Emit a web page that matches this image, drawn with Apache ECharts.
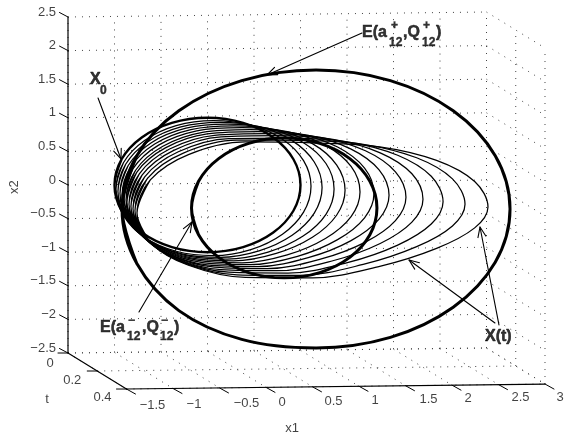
<!DOCTYPE html>
<html><head><meta charset="utf-8"><style>html,body{margin:0;background:#fff}#c{width:564px;height:439px}</style>
<script src="https://cdn.jsdelivr.net/npm/echarts@6/dist/echarts.min.js"></script></head><body><div id="c"></div><script>
// Axis ticks
const x1Ticks=[-1.5,-1,-0.5,0,0.5,1,1.5,2,2.5,3];
const x2Ticks=[-2.5,-2,-1.5,-1,-0.5,0,0.5,1,1.5,2,2.5];
const tTicks=[0,0.2,0.4];
// Curves read against the back-wall grid: [x1, x2]
const ePlus=[[-0.919,-0.357],[-0.760,0.435],[-0.308,1.105],[0.368,1.554],[1.167,1.711],[1.966,1.554],[2.642,1.105],[3.094,0.435],[3.253,-0.357],[3.094,-1.149],[2.642,-1.819],[1.966,-2.268],[1.167,-2.425],[0.368,-2.298],[-0.308,-1.869],[-0.760,-1.169]];
const eMinus=[[-0.172,-0.342],[-0.096,0.056],[0.120,0.393],[0.443,0.619],[0.825,0.698],[1.207,0.619],[1.530,0.393],[1.746,0.056],[1.822,-0.342],[1.746,-0.740],[1.530,-1.077],[1.207,-1.303],[0.825,-1.382],[0.443,-1.303],[0.120,-1.077],[-0.096,-0.740]];
const x0Curve=[[-1,0],[-0.924,0.383],[-0.707,0.707],[-0.383,0.924],[0,1],[0.383,0.924],[0.707,0.707],[0.924,0.383],[1,0],[0.924,-0.383],[0.707,-0.707],[0.383,-0.924],[0,-1],[-0.383,-0.924],[-0.707,-0.707],[-0.924,-0.383]];
const xt1=[[-0.984,-0.063],[-0.904,0.331],[-0.677,0.662],[-0.337,0.884],[0.065,0.959],[0.466,0.891],[0.806,0.682],[1.033,0.362],[1.113,-0.019],[1.033,-0.403],[0.806,-0.732],[0.466,-0.961],[0.065,-1.051],[-0.337,-0.986],[-0.677,-0.777],[-0.904,-0.452]];
const xt2=[[-0.963,-0.095],[-0.880,0.308],[-0.642,0.645],[-0.286,0.864],[0.134,0.933],[0.554,0.868],[0.910,0.660],[1.148,0.342],[1.232,-0.039],[1.148,-0.419],[0.910,-0.748],[0.554,-0.980],[0.134,-1.077],[-0.286,-1.020],[-0.642,-0.814],[-0.880,-0.489]];
const xt3=[[-0.941,-0.126],[-0.854,0.287],[-0.604,0.629],[-0.231,0.845],[0.210,0.907],[0.651,0.844],[1.024,0.637],[1.274,0.320],[1.361,-0.060],[1.274,-0.436],[1.024,-0.764],[0.651,-0.999],[0.210,-1.103],[-0.231,-1.052],[-0.604,-0.849],[-0.854,-0.524]];
const xt4=[[-0.919,-0.159],[-0.828,0.262],[-0.568,0.610],[-0.179,0.825],[0.280,0.881],[0.739,0.820],[1.128,0.616],[1.388,0.301],[1.479,-0.079],[1.388,-0.450],[1.128,-0.778],[0.739,-1.018],[0.280,-1.129],[-0.179,-1.085],[-0.568,-0.886],[-0.828,-0.561]];
const xt5=[[-0.898,-0.190],[-0.802,0.240],[-0.526,0.593],[-0.115,0.805],[0.371,0.853],[0.857,0.793],[1.268,0.590],[1.544,0.276],[1.640,-0.104],[1.544,-0.469],[1.268,-0.795],[0.857,-1.039],[0.371,-1.157],[-0.115,-1.118],[-0.526,-0.923],[-0.802,-0.597]];
const xt6=[[-0.876,-0.224],[-0.775,0.216],[-0.485,0.572],[-0.054,0.783],[0.457,0.824],[0.968,0.766],[1.399,0.565],[1.689,0.251],[1.790,-0.128],[1.689,-0.488],[1.399,-0.813],[0.968,-1.061],[0.457,-1.186],[-0.054,-1.154],[-0.485,-0.962],[-0.775,-0.634]];
const xt7=[[-0.866,-0.256],[-0.759,0.193],[-0.453,0.553],[-0.003,0.761],[0.543,0.795],[1.083,0.739],[1.539,0.538],[1.845,0.225],[1.952,-0.154],[1.845,-0.508],[1.539,-0.831],[1.083,-1.081],[0.543,-1.215],[-0.003,-1.189],[-0.453,-0.999],[-0.759,-0.670]];
const xt8=[[-0.844,-0.287],[-0.731,0.171],[-0.408,0.535],[0.075,0.740],[0.645,0.765],[1.215,0.709],[1.698,0.509],[2.021,0.196],[2.134,-0.183],[2.021,-0.530],[1.698,-0.850],[1.215,-1.104],[0.645,-1.245],[0.075,-1.223],[-0.408,-1.037],[-0.731,-0.706]];
const xt9=[[-0.823,-0.320],[-0.704,0.147],[-0.363,0.516],[0.146,0.717],[0.747,0.734],[1.348,0.679],[1.857,0.479],[2.198,0.167],[2.317,-0.212],[2.198,-0.552],[1.857,-0.870],[1.348,-1.127],[0.747,-1.276],[0.146,-1.260],[-0.363,-1.075],[-0.704,-0.744]];
const xt10=[[-0.801,-0.353],[-0.675,0.122],[-0.314,0.494],[0.228,0.691],[0.866,0.699],[1.504,0.643],[2.045,0.443],[2.406,0.130],[2.533,-0.249],[2.406,-0.580],[2.045,-0.894],[1.504,-1.155],[0.866,-1.311],[0.228,-1.298],[-0.314,-1.115],[-0.675,-0.781]];
const xt11=[[-0.780,-0.384],[-0.645,0.100],[-0.260,0.475],[0.316,0.667],[0.995,0.664],[1.674,0.606],[2.249,0.405],[2.634,0.091],[2.769,-0.288],[2.634,-0.609],[2.249,-0.918],[1.674,-1.182],[0.995,-1.346],[0.316,-1.336],[-0.260,-1.154],[-0.645,-0.817]];
const xt12=[[-0.758,-0.417],[-0.615,0.075],[-0.205,0.453],[0.406,0.641],[1.129,0.628],[1.852,0.569],[2.463,0.367],[2.873,0.053],[3.016,-0.327],[2.873,-0.638],[2.463,-0.943],[1.852,-1.210],[1.129,-1.382],[0.406,-1.375],[-0.205,-1.194],[-0.615,-0.855]];
const family=[xt1,xt2,xt3,xt4,xt5,xt6,xt7,xt8,xt9,xt10,xt11,xt12];
// Annotation arrows: [from, to]
const arrowX0=[[-1.177,1.295],[-0.930,0.387]];
const arrowEPlus=[[1.661,2.262],[0.640,1.637]];
const arrowEMinus=[[-0.737,-1.890],[-0.167,-0.551]];
const arrowXt1=[[3.134,-2.083],[2.930,-0.625]];
const arrowXt2=[[3.091,-2.054],[2.167,-1.116]];
const big={fontWeight:'bold',fontSize:16,textBorderColor:'#000',textBorderWidth:0.5},sm={fontWeight:'bold',fontSize:12,textBorderColor:'#000',textBorderWidth:0.4};
const notes=[['X',-1.263,1.5625,big],['0',-1.156,1.399,sm],['X(t)',2.984,-2.262,big],
['E(a',1.661,2.262,big],['+',1.973,2.366,sm],['12',1.952,2.113,sm],[',Q',2.102,2.262,big],['+',2.317,2.366,sm],['12',2.306,2.113,sm],[')',2.457,2.262,big],
['E(a',-1.156,-2.128,big],['\u2212',-0.855,-2.024,sm],['12',-0.866,-2.262,sm],[',Q',-0.704,-2.128,big],['\u2212',-0.500,-2.024,sm],['12',-0.511,-2.262,sm],[')',-0.360,-2.128,big]];
const x1Title=[0.909,-3.616],x2Title=[-2.081,-0.030],tTitle=[-1.726,-3.185];
const x1Off=[26,21,27,16,21,16,23,16,22,15];
function project(a,t,b){return [a+0.629*t/0.4,b+0.0165*(a+1.5)-0.536*t/0.4];}
const fmt=v=>String(v).replace('-','\u2212');
const series=[];
const line=(data,w,extra)=>series.push(Object.assign({type:'line',data,symbol:'none',smooth:false,silent:true,animation:false,clip:false,lineStyle:{color:'#000',width:w,cap:'round',join:'round'}},extra||{}));
const dot=(a,b)=>line([a,b],1,{lineStyle:{color:'#444',width:1,type:[1,6]}});
x1Ticks.forEach(a=>{dot(project(a,0,-2.5),project(a,0,2.5));dot(project(a,0,-2.5),project(a,0.4,-2.5));});
x2Ticks.forEach(b=>{dot(project(-1.5,0,b),project(3,0,b));dot(project(3,0,b),project(3,0.4,b));});
tTicks.forEach(t=>{dot(project(-1.5,t,-2.5),project(3,t,-2.5));dot(project(3,t,-2.5),project(3,t,2.5));});
const px2=(dx,dy)=>[dx/93,-dy/67.2];
const add=(p,d)=>[p[0]+d[0],p[1]+d[1]];
line([project(-1.5,0,-2.5),project(-1.5,0,2.5)],1.2);
line([project(-1.5,0,-2.5),project(-1.5,0.4,-2.5)],1.2);
line([project(-1.5,0.4,-2.5),project(3,0.4,-2.5)],1.2);
x2Ticks.forEach(b=>{const p=project(-1.5,0,b);line([p,add(p,px2(-8.5,-4.5))],1);});
x1Ticks.forEach(a=>{const p=project(a,0.4,-2.5);line([p,add(p,px2(9,5))],1);});
tTicks.forEach(t=>{const p=project(-1.5,t,-2.5);line([p,add(p,px2(-10,0))],1);});
const closed=c=>[c[c.length-1],...c,c[0],c[1]];
family.forEach(f=>line(closed(f),1.25,{smooth:0.35}));
line(closed(x0Curve),2.4,{smooth:0.35});line(closed(ePlus),3,{smooth:0.35});line(closed(eMinus),3,{smooth:0.35});
[arrowX0,arrowEPlus,arrowEMinus,arrowXt1,arrowXt2].forEach(a=>{line(a,1.1);
 const dx=(a[1][0]-a[0][0])*93,dy=-(a[1][1]-a[0][1])*67.2,L=Math.hypot(dx,dy),ux=dx/L,uy=dy/L,h=10,w=4;
 const l=add(a[1],px2(-ux*h-uy*w,-uy*h+ux*w)),r=add(a[1],px2(-ux*h+uy*w,-uy*h-ux*w));
 line([l,a[1],r],1.1);});
const labs=[];
const lab=(p,s,o)=>labs.push({value:p,label:Object.assign({show:true,formatter:s,position:'inside',align:'center',verticalAlign:'middle',color:'#111',fontFamily:'"Liberation Sans"',fontSize:13},o||{})});
x2Ticks.forEach(b=>{const p=project(-1.5,0,b);lab(p,fmt(b),{align:'right',offset:[-12,-5]});});
x1Ticks.forEach((a,i)=>{const p=project(a,0.4,-2.5);lab(p,fmt(a),{offset:[x1Off[i],16-i/3]});});
lab(project(-1.5,0,-2.5),'0',{offset:[-18,10]});lab(project(-1.5,0.2,-2.5),'0.2',{offset:[-25,9]});lab(project(-1.5,0.4,-2.5),'0.4',{offset:[-24,8]});
lab(x2Title,'x2',{rotate:90});lab(tTitle,'t');lab(x1Title,'x1');
notes.forEach(n=>lab([n[1],n[2]],n[0],Object.assign({align:'left',color:'#000'},n[3])));
series.push({type:'scatter',symbolSize:0,silent:true,animation:false,clip:false,data:labs,z:5});
const chart=echarts.init(document.getElementById('c'),null,{renderer:'canvas'});
chart.setOption({animation:false,backgroundColor:'#fff',grid:{left:0,right:0,top:0,bottom:0},tooltip:{show:false},
xAxis:{type:'value',min:-207.5/93,max:(564-207.5)/93,show:false,scale:true},
yAxis:{type:'value',min:(185-439)/67.2,max:185/67.2,show:false,scale:true},series});
</script></body></html>
